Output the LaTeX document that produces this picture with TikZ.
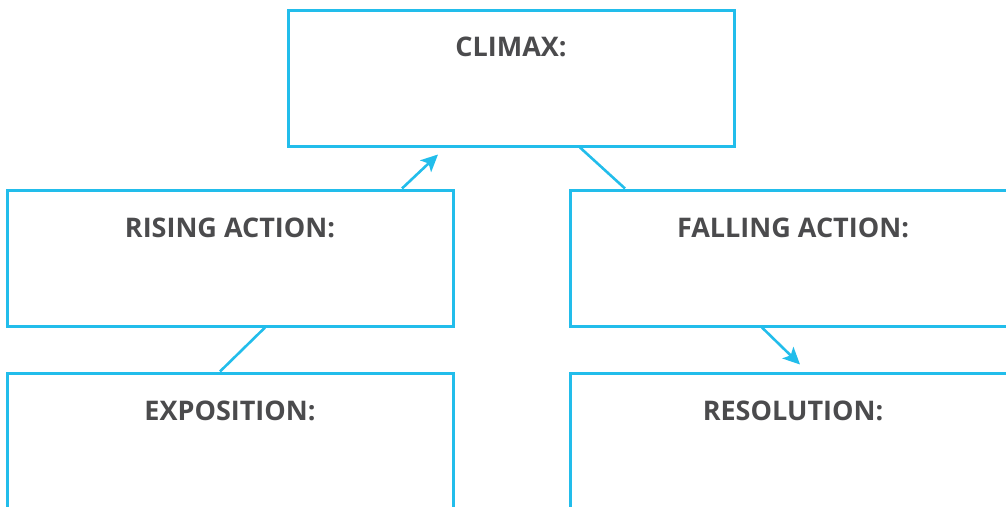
\documentclass[tikz,border=0pt]{standalone}
\usepackage{fontspec}
\setmainfont{Open Sans}
\usetikzlibrary{arrows.meta,positioning,calc}
\definecolor{plotblue}{HTML}{22BDEB}
\definecolor{plotgray}{HTML}{4B4B4D}

\begin{document}
\begin{tikzpicture}
[x=1pt,y=-1pt,
box/.style={draw=plotblue,line width=3pt,minimum width=446pt,minimum height=136pt,inner sep=0pt},
title/.style={text=plotgray,font=\fontsize{27}{30}\selectfont\bfseries,inner sep=0pt,anchor=center},
link/.style={draw=plotblue,line width=2.6pt,>={Stealth[length=17pt,width=16pt,inset=4pt]}}]
\clip (0,0) rectangle (1006,506);
% boxes
\node[box] (climax) at (511,78) {};
\node[box] (rising) at (230,258) {};
\node[box] (falling) at (793,258) {};
\node[box] (exposition) at (230,441) {};
\node[box] (resolution) at (793,441) {};
% titles
\node[title] (climaxT) at ($(climax.north)+(0,38)$) {CLIMAX:};
\node[title] (risingT) at ($(rising.north)+(0,39)$) {RISING ACTION:};
\node[title] (fallingT) at ($(falling.north)+(0,39)$) {FALLING ACTION:};
\node[title] (expositionT) at ($(exposition.north)+(0,39)$) {EXPOSITION:};
\node[title] (resolutionT) at ($(resolution.north)+(0,39)$) {RESOLUTION:};

% connectors
\draw[link] ([xshift=35pt]rising.south) -- ([xshift=-10pt]exposition.north);
\draw[link,->] ([xshift=172pt]rising.north) -- ([xshift=-73pt,yshift=-7pt]climax.south);
\draw[link] ([xshift=69pt]climax.south) -- ([xshift=-168pt]falling.north);
\draw[link,->] ([xshift=-31pt]falling.south) -- ([xshift=7pt,yshift=7pt]resolution.north);
\end{tikzpicture}
\end{document}
